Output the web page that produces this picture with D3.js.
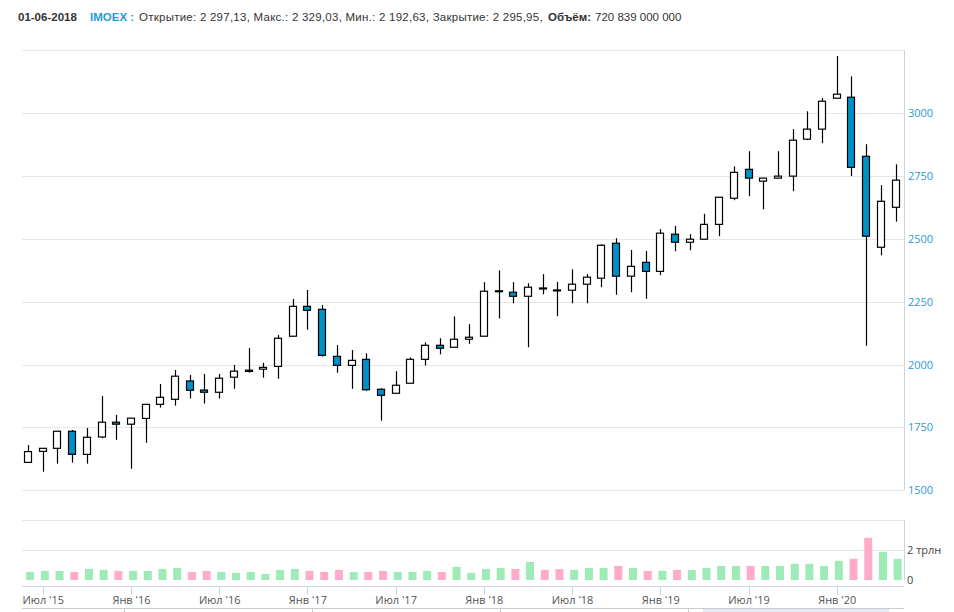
<!DOCTYPE html>
<html><head><meta charset="utf-8">
<script src="https://cdn.jsdelivr.net/npm/d3@7/dist/d3.min.js"></script>
<style>body{margin:0;background:#fff} svg{display:block}</style>
</head><body><svg id="c" width="954" height="612"></svg>
<script>
const months = [
 "2015-06","2015-07","2015-08","2015-09","2015-10","2015-11","2015-12",
 "2016-01","2016-02","2016-03","2016-04","2016-05","2016-06","2016-07","2016-08","2016-09","2016-10","2016-11","2016-12",
 "2017-01","2017-02","2017-03","2017-04","2017-05","2017-06","2017-07","2017-08","2017-09","2017-10","2017-11","2017-12",
 "2018-01","2018-02","2018-03","2018-04","2018-05","2018-06","2018-07","2018-08","2018-09","2018-10","2018-11","2018-12",
 "2019-01","2019-02","2019-03","2019-04","2019-05","2019-06","2019-07","2019-08","2019-09","2019-10","2019-11","2019-12",
 "2020-01","2020-02","2020-03","2020-04","2020-05"];
const open = [1611,1655,1667,1735,1643,1712,1771,
 1763,1786,1842,1862,1935,1899,1890,1950,1973,1982,1993,2113,
 2232,2220,2033,1997,2021,1902,1886,1926,2021,2077,2069,2101,
 2113,2291,2288,2272,2305,2297.13,2296,2320,2344,2483,2352,2407,
 2371,2519,2487,2499,2558,2662,2777,2730,2742,2750,2897,2937,
 3060,3064,2829,2467,2626];
const high = [1680,1668,1735,1740,1748,1875,1800,
 1787,1843,1923,1979,1959,1963,1963,1999,2066,2007,2118,2261,
 2297,2237,2078,2058,2045,1906,1974,2029,2089,2105,2192,2161,
 2328,2375,2328,2324,2360,2329.03,2379,2360,2479,2503,2456,2452,
 2539,2552,2519,2600,2666,2789,2849,2742,2849,2937,3008,3060,
 3228,3147,2877,2714,2797];
const low = [1610,1574,1606,1610,1606,1707,1701,
 1586,1689,1829,1837,1865,1845,1865,1904,1968,1948,1944,2112,
 2139,2032,1968,1904,1896,1777,1886,1926,1997,2041,2069,2083,
 2113,2184,2244,2069,2280,2192.63,2244,2244,2308,2278,2288,2262,
 2356,2451,2455,2498,2511,2654,2670,2618,2741,2690,2893,2881,
 3060,2750,2075,2435,2569];
const close = [1654,1667,1735,1643,1711,1771,1763,
 1787,1842,1870,1954,1898,1890,1946,1974,1978,1989,2105,2232,
 2216,2037,1997,2017,1900,1878,1918,2021,2077,2065,2101,2109,
 2292,2294,2272,2308,2303,2295.95,2320,2348,2475,2352,2391,2371,
 2523,2487,2499,2558,2666,2765,2742,2742,2750,2893,2937,3048,
 3076,2785,2511,2650,2734];
// volume, trillions of roubles
const volume = [0.53,0.60,0.60,0.53,0.73,0.67,0.60,
 0.60,0.60,0.73,0.80,0.53,0.60,0.53,0.47,0.53,0.40,0.67,0.73,
 0.60,0.53,0.67,0.53,0.53,0.60,0.53,0.53,0.60,0.53,0.87,0.47,
 0.73,0.80,0.73,1.20,0.67,0.72,0.67,0.80,0.80,0.93,0.80,0.60,
 0.60,0.67,0.67,0.80,0.93,0.93,0.93,0.93,0.93,1.07,1.07,0.93,
 1.27,1.40,2.80,1.87,1.40];
const xTickMonths = ["2015-07","2016-01","2016-07","2017-01","2017-07","2018-01","2018-07","2019-01","2019-07","2020-01"];
const xTickLabels = ["Июл '15","Янв '16","Июл '16","Янв '17","Июл '17","Янв '18","Июл '18","Янв '19","Июл '19","Янв '20"];
const priceGrid = [1500,1750,2000,2250,2500,2750,3000,3250];
const priceLabels = [1500,1750,2000,2250,2500,2750,3000];
const volTicks = [2, 4];
const volLabelVals = [0, 2];
const volLabelText = ["0", "2 трлн"];
const headerParts = [
  {t:"01-06-2018", w:"bold", c:"#333"},
  {t:"IMOEX :", w:"bold", c:"#1f9cd8"},
  {t:"Открытие: 2 297,13, Макс.: 2 329,03, Мин.: 2 192,63, Закрытие: 2 295,95,", w:"normal", c:"#333"},
  {t:"Объём:", w:"bold", c:"#333"},
  {t:"720 839 000 000", w:"normal", c:"#333"}
];

const svg = d3.select("#c");
const L = 22, R = 904;
const x = d3.scaleBand().domain(months).range([21.2, 903.4]);
const xv = d3.scaleBand().domain(months).range([22.8, 905.0]);
const y = d3.scaleLinear().domain([1500, 3250]).range([490.3, 50.45]);
const yv = d3.scaleLinear().domain([0, 4]).range([580, 519.6]);
const bw = x.bandwidth();
const cx = m => x(m) + bw / 2;
const crisp = v => Math.round(v) + 0.5;
const labelFont = "'Open Sans', 'DejaVu Sans', sans-serif";

// header
const headerX = [18, 90, 139, 548, 595];
const headerSpacing = [0, 0, 0.25, 0, 0];
const hg = svg.append("g").style("font-family", "'Liberation Sans', Arial, sans-serif").style("font-size", "11.5px");
headerParts.forEach((p, i) => {
  hg.append("text").attr("x", headerX[i]).attr("y", 21).text(p.t)
    .style("font-weight", p.w).style("letter-spacing", headerSpacing[i] + "px").attr("fill", p.c);
});

// price grid
svg.append("g").selectAll("line").data(priceGrid).join("line")
  .attr("x1", L).attr("x2", R).attr("y1", d => crisp(y(d))).attr("y2", d => crisp(y(d)))
  .attr("stroke", "#e6e6e6").attr("stroke-width", 1);
// price axis line
svg.append("line").attr("x1", R + 0.5).attr("x2", R + 0.5).attr("y1", 50).attr("y2", 490)
  .attr("stroke", "#c8d6e8");
svg.append("g").selectAll("text").data(priceLabels).join("text")
  .attr("x", 908).attr("y", d => y(d) + 4)
  .attr("fill", "#2a9ad6").style("font-family", labelFont).style("font-size", "11px")
  .text(d => d);

// candles
const idx = d3.range(months.length);
const cg = svg.append("g");
cg.selectAll("line").data(idx).join("line")
  .attr("x1", i => Math.floor(cx(months[i])) + 0.5).attr("x2", i => Math.floor(cx(months[i])) + 0.5)
  .attr("y1", i => y(high[i])).attr("y2", i => y(low[i]))
  .attr("stroke", "#000").attr("stroke-width", 1.2);
cg.selectAll("rect").data(idx).join("rect")
  .attr("x", i => Math.floor(cx(months[i]) - 4) + 0.5)
  .attr("width", 7)
  .attr("y", i => y(Math.max(open[i], close[i])))
  .attr("height", i => Math.max(1, y(Math.min(open[i], close[i])) - y(Math.max(open[i], close[i]))))
  .attr("fill", i => close[i] < open[i] ? "#0090c8" : "#fff")
  .attr("stroke", "#000").attr("stroke-width", 1.2);

// volume panel
svg.append("g").selectAll("line").data(volTicks).join("line")
  .attr("x1", L).attr("x2", R).attr("y1", d => crisp(yv(d))).attr("y2", d => crisp(yv(d)))
  .attr("stroke", "#e6e6e6");
svg.append("line").attr("x1", R + 0.5).attr("x2", R + 0.5).attr("y1", 520).attr("y2", 580)
  .attr("stroke", "#c8d6e8");
svg.append("g").selectAll("rect").data(idx).join("rect")
  .attr("x", i => xv(months[i]) + bw / 2 - 4).attr("width", 8)
  .attr("y", i => yv(volume[i])).attr("height", i => yv(0) - yv(volume[i]))
  .attr("fill", i => close[i] < open[i] ? "#ffabc9" : "#9eebb7");
svg.append("g").selectAll("text").data(volLabelVals).join("text")
  .attr("x", 907).attr("y", (d) => yv(d) + 4)
  .attr("fill", "#444").style("font-family", labelFont).style("font-size", "11px")
  .text((d, i) => volLabelText[i]);

// x axis
svg.append("line").attr("x1", L).attr("x2", R).attr("y1", 586.5).attr("y2", 586.5).attr("stroke", "#ccd6eb");
svg.append("g").selectAll("line").data(xTickMonths).join("line")
  .attr("x1", d => Math.floor(cx(d)) + 0.5).attr("x2", d => Math.floor(cx(d)) + 0.5)
  .attr("y1", 586.5).attr("y2", 595).attr("stroke", "#ccd6eb");
svg.append("g").selectAll("text").data(xTickMonths).join("text")
  .attr("x", d => cx(d)).attr("y", 604).attr("text-anchor", "middle")
  .attr("fill", "#555").style("font-family", labelFont).style("font-size", "11px")
  .text((d, i) => xTickLabels[i]);

// navigator remnant
svg.append("rect").attr("x", 703).attr("y", 609).attr("width", 186).attr("height", 3).attr("fill", "#e4e9f3");
svg.append("line").attr("x1", L).attr("x2", R).attr("y1", 608.5).attr("y2", 608.5).attr("stroke", "#cccccc");
svg.append("g").selectAll("line").data([124, 312, 500, 688]).join("line")
  .attr("x1", d => d + 0.5).attr("x2", d => d + 0.5).attr("y1", 608.5).attr("y2", 612).attr("stroke", "#cccccc");
</script></body></html>
